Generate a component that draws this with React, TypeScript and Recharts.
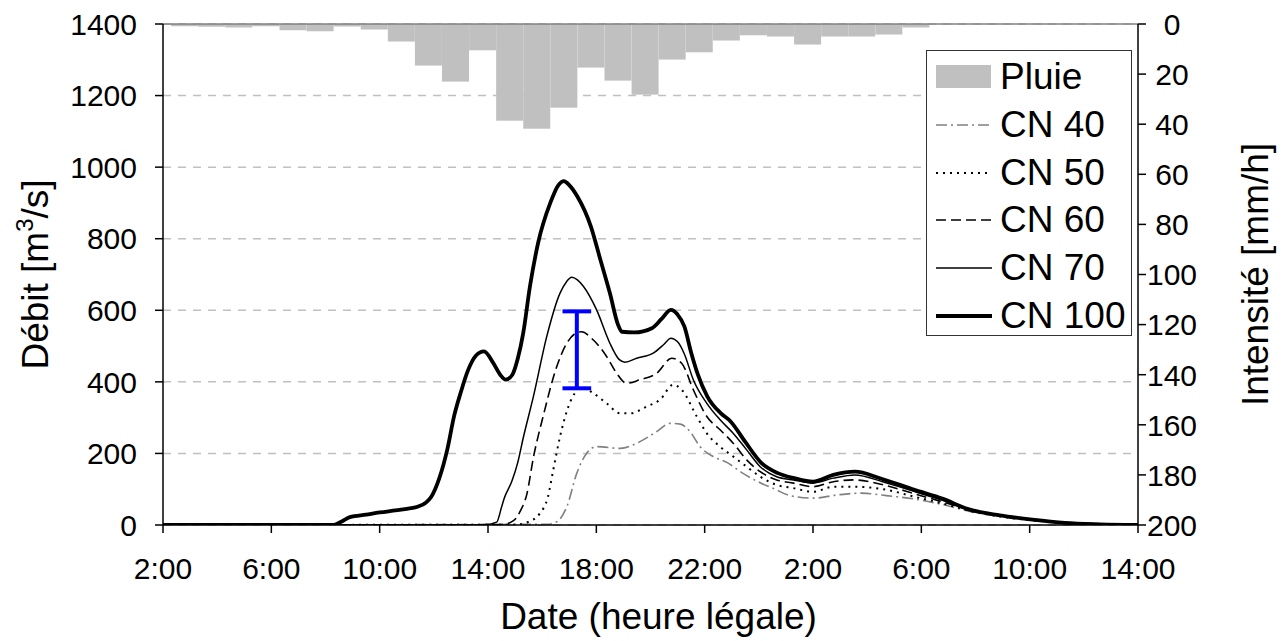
import React from "react";
import { ComposedChart, Bar, Line, XAxis, YAxis, CartesianGrid, ReferenceLine, Label } from "recharts";

// hours counted from 2:00 on the first day
const hourTicks = [0, 4, 8, 12, 16, 20, 24, 28, 32, 36];
const hourLabels = ["2:00", "6:00", "10:00", "14:00", "18:00", "22:00", "2:00", "6:00", "10:00", "14:00"];
const flowTicks = [0, 200, 400, 600, 800, 1000, 1200, 1400];
const rainTicks = [0, 20, 40, 60, 80, 100, 120, 140, 160, 180, 200];

// hourly rain intensity [mm/h]
const rainHours = [0.8, 1.8, 2.8, 3.8, 4.8, 5.8, 6.8, 7.8, 8.8, 9.8, 10.8, 11.8, 12.8, 13.8, 14.8, 15.8, 16.8, 17.8, 18.8, 19.8, 20.8, 21.8, 22.8, 23.8, 24.8, 25.8, 26.8, 27.8];
const rainMm = [0.9, 1.1, 1.4, 0.9, 2.5, 2.9, 1.0, 2.2, 7.0, 16.6, 23.0, 10.5, 38.6, 41.8, 33.4, 17.4, 22.6, 28.2, 14.2, 11.3, 6.6, 4.5, 5.0, 8.2, 5.0, 5.0, 4.2, 1.4];

// simulated discharge [m3/s] as [hour, value]
const cn40 = [[0, 0], [14.2, 2], [14.54, 9], [14.91, 51], [15.28, 145], [15.65, 201], [16.01, 219], [16.88, 214], [17.61, 233], [18.23, 261], [18.72, 284], [19.1, 282], [19.45, 262], [19.83, 219], [20.32, 191], [20.82, 175], [21.4, 145], [22.05, 118], [22.6, 100], [23.15, 82], [24.0, 75], [24.9, 84], [25.8, 89], [26.7, 82], [27.8, 72], [28.9, 55], [29.9, 36], [31.1, 22], [32.4, 11], [33.6, 5], [34.85, 2], [36, 0]];
const cn50 = [[0, 0], [13.0, 1], [13.5, 9], [13.92, 33], [14.2, 75], [14.41, 154], [14.66, 247], [14.91, 318], [15.2, 368], [15.45, 385], [15.89, 368], [16.38, 340], [16.88, 312], [17.25, 312], [17.86, 331], [18.35, 350], [18.84, 392], [19.15, 378], [19.71, 303], [20.08, 256], [20.57, 219], [21.06, 191], [21.55, 163], [22.05, 135], [22.66, 112], [23.28, 103], [24.0, 93], [24.75, 107], [25.5, 107], [26.6, 100], [27.8, 78], [28.9, 58], [29.9, 38], [31.1, 22], [32.4, 11], [33.6, 5], [34.85, 2], [36, 0]];
const cn60 = [[0, 0], [12.5, 1], [12.94, 12], [13.2, 40], [13.43, 85], [13.68, 190], [14.04, 305], [14.54, 443], [14.91, 508], [15.3, 538], [15.45, 540], [15.89, 517], [16.38, 471], [16.75, 424], [17.12, 396], [17.61, 406], [18.23, 424], [18.78, 466], [19.15, 452], [19.58, 378], [20.08, 303], [20.57, 266], [21.06, 228], [21.55, 182], [22.05, 149], [22.66, 126], [23.28, 117], [24.0, 107], [24.75, 121], [25.5, 126], [26.6, 112], [27.8, 86], [28.9, 62], [29.9, 40], [31.1, 23], [32.4, 12], [33.6, 5], [34.85, 2], [36, 0]];
const cn70 = [[0, 0], [11.9, 1], [12.32, 8], [12.5, 50], [12.6, 75], [12.88, 122], [13.1, 175], [13.3, 243], [13.68, 360], [14.17, 527], [14.66, 648], [14.9, 680], [15.09, 692], [15.3, 685], [15.52, 667], [16.01, 601], [16.5, 508], [16.85, 462], [17.06, 455], [17.49, 466], [18.1, 480], [18.5, 505], [18.75, 522], [19.0, 512], [19.25, 478], [19.58, 406], [20.08, 340], [20.57, 294], [21.06, 256], [21.55, 210], [22.05, 163], [22.66, 135], [23.28, 126], [24.0, 117], [24.75, 131], [25.55, 140], [26.6, 120], [27.8, 92], [28.9, 66], [29.9, 42], [31.1, 24], [32.4, 13], [33.6, 5], [34.85, 2], [36, 0]];
const cn100 = [[0, 0], [6.3, 0], [6.6, 10], [6.9, 22], [7.5, 29], [8.0, 35], [8.5, 40], [9.0, 45], [9.4, 51], [9.7, 62], [9.9, 78], [10.2, 130], [10.5, 212], [10.75, 305], [11.0, 372], [11.25, 430], [11.55, 473], [11.85, 485], [12.2, 452], [12.45, 420], [12.65, 406], [12.9, 420], [13.1, 465], [13.3, 536], [13.55, 667], [13.85, 788], [14.3, 900], [14.6, 950], [14.8, 961], [15.0, 950], [15.3, 918], [15.8, 834], [16.15, 741], [16.5, 648], [16.8, 560], [16.95, 540], [17.4, 538], [18.05, 550], [18.4, 575], [18.75, 601], [19.0, 588], [19.25, 555], [19.5, 482], [19.75, 420], [20.1, 359], [20.6, 312], [20.95, 290], [21.5, 232], [22.1, 173], [22.7, 145], [23.3, 131], [24.0, 121], [24.75, 140], [25.55, 149], [26.5, 130], [27.75, 98], [28.8, 73], [29.7, 45], [30.9, 27], [32.1, 15], [33.3, 6], [34.6, 2], [36, 0]];

// uncertainty bar on the CN 60 peak
const errorHour = 15.28;
const errorLow = 382;
const errorHigh = 597;
const errorCapHours = 0.53;

const FONT = "'Liberation Sans', Arial, sans-serif";
const BAR_W = 27;

const series = [
  { name: "CN 40", points: cn40, stroke: "#808080", width: 1.6, dash: "11 4 2 4" },
  { name: "CN 50", points: cn50, stroke: "#000000", width: 2, dash: "2 5" },
  { name: "CN 60", points: cn60, stroke: "#000000", width: 1.6, dash: "10 5" },
  { name: "CN 70", points: cn70, stroke: "#000000", width: 1.5, dash: undefined },
  { name: "CN 100", points: cn100, stroke: "#000000", width: 3.8, dash: undefined },
];

const rainData = rainHours.map((t, i) => ({ t, rain: rainMm[i] }));

// recharts gives a sliver on a numeric axis, so widen each bar to a full hour
function RainBar(props: any) {
  const { x, y, width, height } = props;
  const cx = x + width / 2;
  const top = Math.min(y, y + height);
  return <rect x={cx - BAR_W / 2} y={top} width={BAR_W} height={Math.abs(height)} fill="#c0c0c0" />;
}

function RightTick(props: any) {
  const { x, y, payload } = props;
  return (
    <text x={x + 24} y={y} dy="0.36em" textAnchor="middle" fontSize={30} fontFamily={FONT} fill="#000">
      {payload.value}
    </text>
  );
}

function ChartLegend() {
  return (
    <div
      style={{
        position: "absolute", left: 926, top: 50, width: 206, height: 286, boxSizing: "border-box",
        border: "1.5px solid #333", background: "#fff", fontFamily: FONT, fontSize: 37, color: "#000",
      }}
    >
      <div style={{ position: "absolute", left: 9, top: 26 - 12, width: 55, height: 23, background: "#c0c0c0" }} />
      <div style={{ position: "absolute", left: 73, top: 26 - 22, lineHeight: "44px" }}>Pluie</div>
      {series.map((s, i) => {
        const cy = 26 + 47.8 * (i + 1);
        return (
          <React.Fragment key={s.name}>
            <svg style={{ position: "absolute", left: 9, top: cy - 5 }} width={56} height={10}>
              <line x1={0} y1={5} x2={56} y2={5} stroke={s.stroke} strokeWidth={s.width} strokeDasharray={s.dash} />
            </svg>
            <div style={{ position: "absolute", left: 73, top: cy - 22, lineHeight: "44px", whiteSpace: "nowrap" }}>{s.name}</div>
          </React.Fragment>
        );
      })}
    </div>
  );
}

export default function App() {
  const tickStyle = { fontSize: 30, fontFamily: FONT, fill: "#000" };
  const errStyle = { yAxisId: "left", stroke: "#0000ff", strokeWidth: 4 };
  return (
    <div style={{ position: "absolute", left: 0, top: 0, width: 1281, height: 641, background: "#fff" }}>
      <ComposedChart width={1281} height={641} data={rainData} margin={{ top: 24, right: 0, bottom: 0, left: 0 }}>
        <CartesianGrid yAxisId="left" vertical={false} stroke="#c0c0c0" strokeDasharray="8 7" strokeWidth={1.5} />
        <XAxis
          type="number"
          dataKey="t"
          domain={[0, 36]}
          ticks={hourTicks}
          tickFormatter={(v: number) => hourLabels[hourTicks.indexOf(v)]}
          height={116}
          tick={tickStyle}
          tickSize={8}
          tickMargin={25}
          stroke="#000"
          strokeWidth={1.5}
          allowDataOverflow
        >
          <Label
            content={(p: any) => (
              <text x={p.viewBox.x + p.viewBox.width / 2 + 8} y={p.viewBox.y + 104} textAnchor="middle" fontSize={37} fontFamily={FONT} fill="#000">
                Date (heure légale)
              </text>
            )}
          />
        </XAxis>
        <YAxis
          yAxisId="left"
          dataKey="q"
          domain={[0, 1400]}
          ticks={flowTicks}
          width={163}
          tick={tickStyle}
          tickSize={8}
          tickMargin={18}
          stroke="#000"
          strokeWidth={1.5}
          allowDataOverflow
        >
          <Label
            content={(p: any) => {
              const x = 48;
              const y = p.viewBox.y + p.viewBox.height / 2;
              return (
                <text x={x} y={y} transform={`rotate(-90, ${x}, ${y})`} textAnchor="middle" fontSize={37} fontFamily={FONT} fill="#000">
                  Débit [m<tspan fontSize={24} dy={-15}>3</tspan><tspan dy={15}>/s]</tspan>
                </text>
              );
            }}
          />
        </YAxis>
        <YAxis
          yAxisId="right"
          orientation="right"
          reversed
          domain={[0, 200]}
          ticks={rainTicks}
          width={143}
          tick={<RightTick />}
          tickSize={8}
          stroke="#000"
          strokeWidth={1.5}
          allowDataOverflow
        >
          <Label
            content={(p: any) => {
              const x = 1268;
              const y = p.viewBox.y + p.viewBox.height / 2;
              return (
                <text x={x} y={y} transform={`rotate(-90, ${x}, ${y})`} textAnchor="middle" fontSize={37} fontFamily={FONT} fill="#000">
                  Intensité [mm/h]
                </text>
              );
            }}
          />
        </YAxis>
        <Bar yAxisId="right" dataKey="rain" fill="#c0c0c0" shape={<RainBar />} isAnimationActive={false} />
        <ReferenceLine yAxisId="left" y={1400} stroke="#808080" strokeWidth={1.5} />
        {series.map((s) => (
          <Line
            key={s.name}
            yAxisId="left"
            data={s.points.map(([t, q]) => ({ t, q }))}
            dataKey="q"
            type="monotone"
            stroke={s.stroke}
            strokeWidth={s.width}
            strokeDasharray={s.dash}
            dot={false}
            activeDot={false}
            isAnimationActive={false}
          />
        ))}
        <ReferenceLine {...errStyle} segment={[{ x: errorHour, y: errorLow }, { x: errorHour, y: errorHigh }]} />
        <ReferenceLine {...errStyle} segment={[{ x: errorHour - errorCapHours, y: errorLow }, { x: errorHour + errorCapHours, y: errorLow }]} />
        <ReferenceLine {...errStyle} segment={[{ x: errorHour - errorCapHours, y: errorHigh }, { x: errorHour + errorCapHours, y: errorHigh }]} />
      </ComposedChart>
      <ChartLegend />
    </div>
  );
}
